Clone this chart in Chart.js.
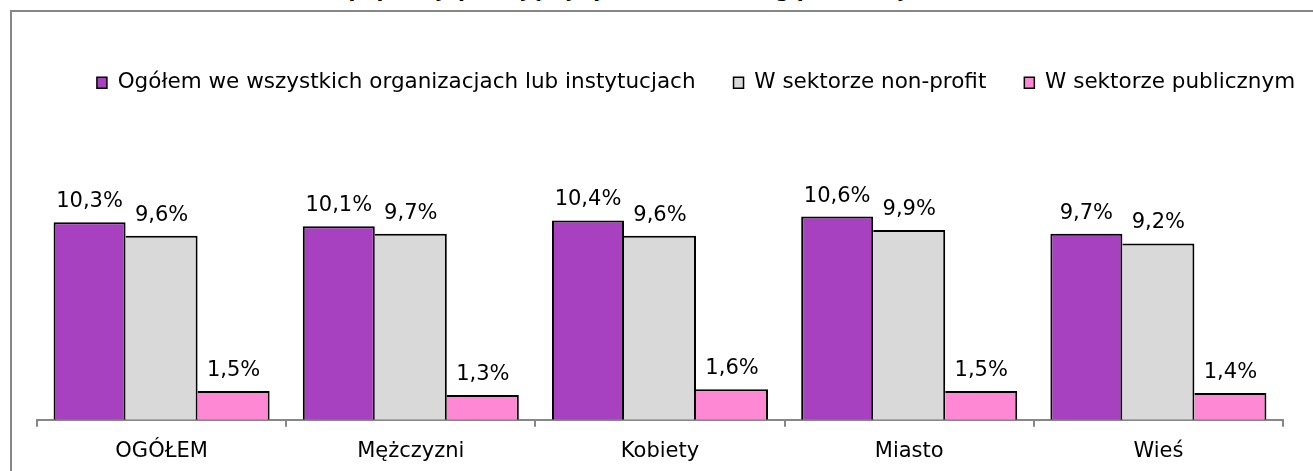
<!DOCTYPE html>
<html lang="pl">
<head>
<meta charset="utf-8">
<title>Praca społeczna</title>
<script src="https://cdn.jsdelivr.net/npm/chart.js@4"></script>
<style>
  body { margin: 0; width: 1313px; height: 471px; overflow: hidden; position: relative; background: #fff; font-family: "DejaVu Sans", Verdana, sans-serif; }
  .frame { position: absolute; left: 10px; top: 10px; width: 1400px; height: 600px; border: 2px solid #878787; }
  .title { position: absolute; left: 0; width: 1350px; top: -20px; line-height: 21px; text-align: center; font-weight: bold; font-size: 20px; }
  canvas { position: absolute; left: 0; top: 0; }
</style>
</head>
<body>
<div class="title">Odsetek populacji pracującej społecznie według płci i miejsca zamieszkania</div>
<div class="frame"></div>
<canvas id="chart" width="1360" height="485"></canvas>
<script>
const categories = ['OGÓŁEM', 'Mężczyzni', 'Kobiety', 'Miasto', 'Wieś'];
const seriesNames = [
  'Ogółem we wszystkich organizacjach lub instytucjach',
  'W sektorze non-profit',
  'W sektorze publicznym',
];
const ogolem = [10.3, 10.1, 10.4, 10.6, 9.7];
const nonProfit = [9.6, 9.7, 9.6, 9.9, 9.2];
const publiczny = [1.5, 1.3, 1.6, 1.5, 1.4];

const colors = ['#a841bf', '#d9d9d9', '#ff88d5'];

Chart.defaults.font.family = '"DejaVu Sans", Verdana, sans-serif';
Chart.defaults.color = '#000';

// value labels above the bars, polish decimal comma
const valueLabels = {
  id: 'valueLabels',
  afterDatasetsDraw(chart) {
    const { ctx } = chart;
    ctx.save();
    ctx.font = '21px "DejaVu Sans", Verdana, sans-serif';
    ctx.fillStyle = '#000';
    ctx.textAlign = 'center';
    ctx.textBaseline = 'alphabetic';
    chart.data.datasets.forEach((ds, i) => {
      chart.getDatasetMeta(i).data.forEach((bar, j) => {
        ctx.fillText(ds.data[j].toFixed(1).replace('.', ',') + '%', bar.x, bar.y - 15);
      });
    });
    ctx.restore();
  },
};

const outer = { top: 2, left: 2, right: 2, bottom: 0 };
const inner = { top: 2, left: 0, right: 2, bottom: 0 };

new Chart(document.getElementById('chart'), {
  type: 'bar',
  data: {
    labels: categories,
    datasets: [
      { label: seriesNames[0], data: ogolem, backgroundColor: colors[0], borderColor: '#000', borderWidth: outer },
      { label: seriesNames[1], data: nonProfit, backgroundColor: colors[1], borderColor: '#000', borderWidth: inner },
      { label: seriesNames[2], data: publiczny, backgroundColor: colors[2], borderColor: '#000', borderWidth: inner },
    ],
  },
  options: {
    responsive: false,
    animation: false,
    devicePixelRatio: 1,
    categoryPercentage: 0.867,
    barPercentage: 1,
    layout: { padding: { left: 37, right: 5, top: 34, bottom: 9 } },
    plugins: {
      tooltip: { enabled: false },
      legend: {
        position: 'top',
        align: 'center',
        labels: {
          boxWidth: 10,
          boxHeight: 11,
          padding: 38,
          font: { size: 21.5 },
          generateLabels: (chart) => Chart.defaults.plugins.legend.labels.generateLabels(chart)
            .map((item) => ({ ...item, lineWidth: 1.5, strokeStyle: '#000' })),
        },
      },
    },
    scales: {
      x: {
        z: 1,
        grid: { offset: true, drawOnChartArea: false, color: '#878787', lineWidth: 2, tickLength: 7 },
        border: { color: '#878787', width: 2 },
        ticks: { font: { size: 21 }, padding: 12 },
      },
      y: {
        position: 'right',
        min: 0,
        max: 16.5,
        grid: { display: false },
        border: { display: false },
        ticks: { display: false },
        afterFit: (axis) => { axis.width = 72; },
      },
    },
  },
  plugins: [valueLabels],
});
</script>
</body>
</html>
